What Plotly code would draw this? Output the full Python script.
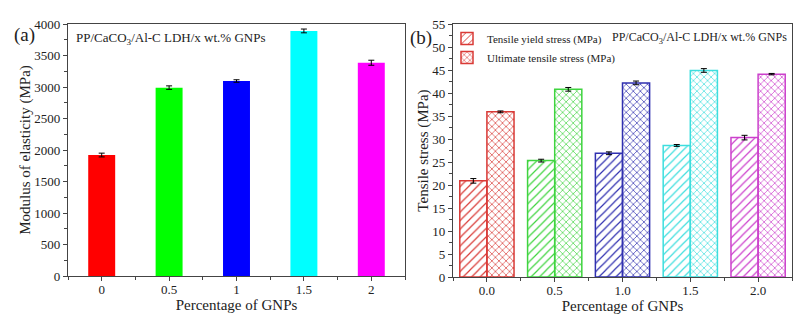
import plotly.graph_objects as go

# ---- data ----
gnp = [0, 0.5, 1, 1.5, 2]
x_labels_a = ["0", "0.5", "1", "1.5", "2"]
x_labels_b = ["0.0", "0.5", "1.0", "1.5", "2.0"]
modulus = [1920, 2990, 3095, 3890, 3385]
modulus_err = [30, 28, 20, 30, 40]
yield_stress = [20.9, 25.3, 26.9, 28.6, 30.3]
yield_err = [0.5, 0.3, 0.3, 0.2, 0.5]
ultimate_stress = [35.9, 40.8, 42.2, 44.9, 44.1]
ultimate_err = [0.2, 0.4, 0.4, 0.4, 0.15]

colors_a = ["#ff0000", "#00ff00", "#0000ff", "#00ffff", "#ff00ff"]
colors_b = ["#d93a36", "#3fd43f", "#3030b0", "#3ddede", "#cc40cc"]

FONT = "Liberation Serif"
TXT = "#222222"
AX = "#444444"
OFF = 8  # page body margin
W, H = 810 - OFF, 323 - OFF

fig = go.Figure()

fig.add_trace(go.Bar(
    x=gnp, y=modulus, width=0.2, marker=dict(color=colors_a, line=dict(width=0)),
    error_y=dict(type="data", array=modulus_err, color="black", thickness=1, width=3),
    showlegend=False, xaxis="x", yaxis="y"))

fig.add_trace(go.Bar(
    x=gnp, y=yield_stress, width=0.2, offset=-0.2, name="Tensile yield stress (MPa)",
    marker=dict(color=colors_b, line=dict(color=colors_b, width=1.5),
                pattern=dict(shape="/", fgcolor=colors_b, bgcolor="white", size=6, solidity=0.2, fillmode="replace")),
    error_y=dict(type="data", array=yield_err, color="black", thickness=1, width=3),
    xaxis="x2", yaxis="y2"))

fig.add_trace(go.Bar(
    x=gnp, y=ultimate_stress, width=0.2, offset=0.0, name="Ultimate tensile stress (MPa)",
    marker=dict(color=colors_b, line=dict(color=colors_b, width=1.5),
                pattern=dict(shape="x", fgcolor=colors_b, bgcolor="white", size=5, solidity=0.25, fillmode="replace")),
    error_y=dict(type="data", array=ultimate_err, color="black", thickness=1, width=3),
    xaxis="x2", yaxis="y2"))

def px_x(p):
    return (p - OFF) / W

def px_y(p):
    return 1 - (p - OFF) / H

axis_common = dict(showline=True, linecolor=AX, linewidth=1.2, mirror=True, showgrid=False,
                   zeroline=False, ticks="outside", ticklen=4, tickcolor=AX, automargin=False,
                   tickfont=dict(family=FONT, size=13, color=TXT))
tfont = dict(family=FONT, size=15, color=TXT)

fig.update_layout(
    width=W, height=H, margin=dict(l=0, r=0, t=0, b=0, autoexpand=False),
    paper_bgcolor="white", plot_bgcolor="white",
    font=dict(family=FONT, color=TXT),
    barmode="overlay",
    xaxis=dict(domain=[px_x(68), px_x(405)], range=[-0.25, 2.25], tickvals=gnp, ticktext=x_labels_a,
               minor=dict(ticks="outside", ticklen=3, dtick=0.5, tick0=0.25, tickcolor=AX),
               title=dict(text="Percentage of GNPs", font=tfont, standoff=0), ticklabelstandoff=-3,
               anchor="y", **axis_common),
    yaxis=dict(domain=[px_y(276), px_y(24)], range=[0, 4000], dtick=500,
               minor=dict(ticks="outside", ticklen=3, dtick=250, tickcolor=AX),
               title=dict(text="Modulus of elasticity (MPa)", font=tfont, standoff=0),
               anchor="x", **axis_common),
    xaxis2=dict(domain=[px_x(453), px_x(792)], range=[-0.25, 2.25], tickvals=gnp, ticktext=x_labels_b,
                minor=dict(ticks="outside", ticklen=3, dtick=0.5, tick0=0.25, tickcolor=AX),
                title=dict(text="Percentage of GNPs", font=tfont, standoff=0), ticklabelstandoff=-3,
                anchor="y2", **axis_common),
    yaxis2=dict(domain=[px_y(277), px_y(24)], range=[0, 55], dtick=5,
                minor=dict(ticks="outside", ticklen=3, dtick=2.5, tickcolor=AX),
                title=dict(text="Tensile stress (MPa)", font=tfont, standoff=0),
                anchor="x2", **axis_common),
    legend=dict(x=px_x(447), y=px_y(24), xanchor="left", yanchor="top", bgcolor="rgba(0,0,0,0)",
                font=dict(family=FONT, size=11, color=TXT), tracegroupgap=0, itemwidth=30),
    annotations=[
        dict(text="(a)", x=px_x(12), y=px_y(35), xref="paper", yref="paper", xanchor="left", yanchor="middle",
             showarrow=False, font=dict(family=FONT, size=19, color=TXT)),
        dict(text="(b)", x=px_x(408), y=px_y(38), xref="paper", yref="paper", xanchor="left", yanchor="middle",
             showarrow=False, font=dict(family=FONT, size=19, color=TXT)),
        dict(text="PP/CaCO<sub>3</sub>/Al-C LDH/x wt.% GNPs", x=px_x(74), y=px_y(38), xref="paper", yref="paper",
             xanchor="left", yanchor="middle", showarrow=False, font=dict(family=FONT, size=13, color=TXT)),
        dict(text="PP/CaCO<sub>3</sub>/Al-C LDH/x wt.% GNPs", x=px_x(789), y=px_y(38), xref="paper", yref="paper",
             xanchor="right", yanchor="middle", showarrow=False, font=dict(family=FONT, size=12, color=TXT)),
    ],
)

fig.write_html("out.html")
